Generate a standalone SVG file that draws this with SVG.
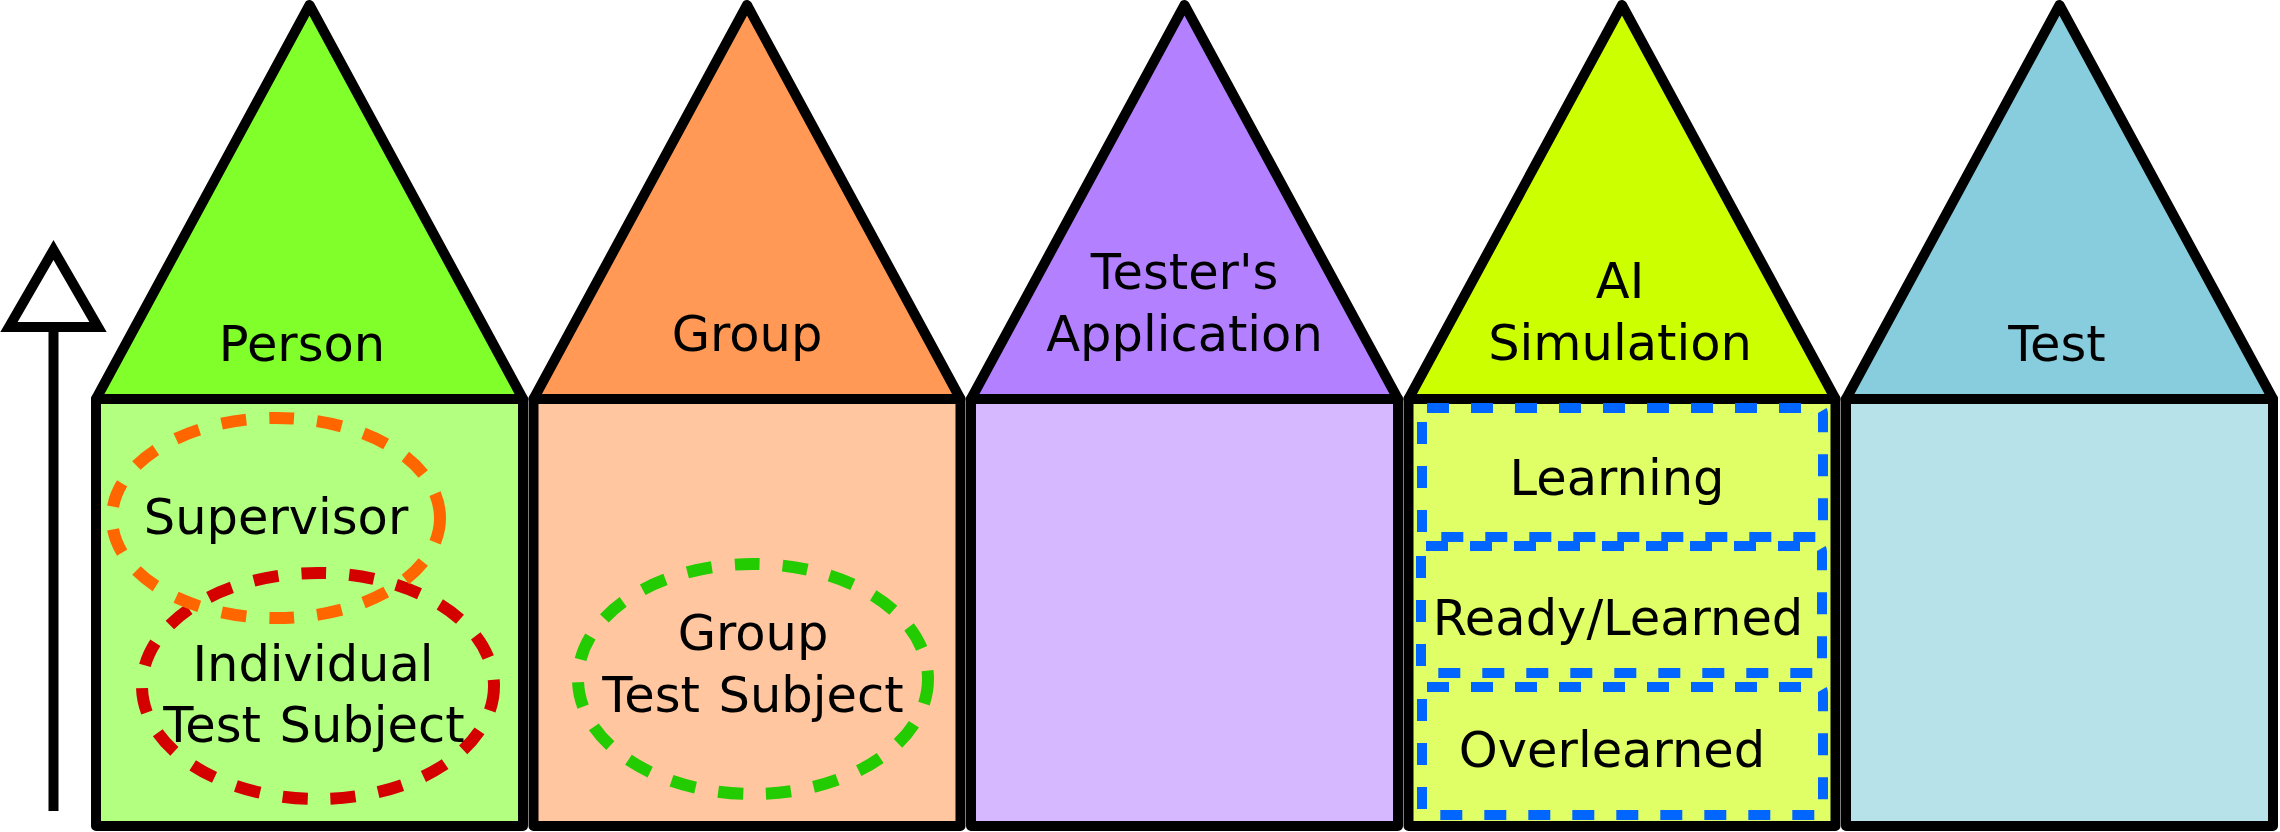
<svg xmlns="http://www.w3.org/2000/svg" width="2280" height="832" viewBox="0 0 2280 832">
<style>
.tri{stroke:#000;stroke-width:10;stroke-linejoin:round}
.box{stroke:#000;stroke-width:10;stroke-linejoin:round}
.lbl{font-family:"DejaVu Sans",Verdana,sans-serif;font-size:49.5px;fill:#000;text-anchor:middle}
.ws{word-spacing:3px}
.ell{fill:none;stroke-width:12;stroke-dasharray:25,23}
.state{fill:none;stroke:#0066ff;stroke-width:10;stroke-dasharray:22,22}
</style>
<rect width="2280" height="832" fill="#fff"/>
<g id="connectors">
<line x1="53.5" y1="327" x2="53.5" y2="811" stroke="#000" stroke-width="10"/>
<polygon points="53.5,250 9,327 98,327" fill="#fff" stroke="#000" stroke-width="10" stroke-linejoin="miter"/>
</g>
<g id="person">
<polygon class="tri" points="309.5,5 96,399 523,399" fill="#80ff2a"/>
<rect class="box" x="96" y="399" width="427" height="427" fill="#b3ff80"/>
<text class="lbl" x="302" y="361">Person</text>
</g>
<g id="group">
<polygon class="tri" points="747,5 533.5,399 960.5,399" fill="#ff9955"/>
<rect class="box" x="533.5" y="399" width="427" height="427" fill="#ffc6a0"/>
<text class="lbl" x="747" y="351">Group</text>
</g>
<g id="testers-application">
<polygon class="tri" points="1184.5,5 971,399 1398,399" fill="#b380ff"/>
<rect class="box" x="971" y="399" width="427" height="427" fill="#d5b8ff"/>
<text class="lbl" x="1184.5" y="289">Tester's</text>
<text class="lbl" x="1184.5" y="351">Application</text>
</g>
<g id="ai-simulation">
<polygon class="tri" points="1622,5 1408.5,399 1835.5,399" fill="#ccff00"/>
<rect class="box" x="1408.5" y="399" width="427" height="427" fill="#e0ff66"/>
<text class="lbl" x="1620" y="298">AI</text>
<text class="lbl" x="1620" y="360">Simulation</text>
</g>
<g id="test">
<polygon class="tri" points="2059.5,5 1846,399 2273,399" fill="#87cddd"/>
<rect class="box" x="1846" y="399" width="427" height="427" fill="#b8e2ea"/>
<text class="lbl" x="2057" y="361">Test</text>
</g>
<g id="individual-test-subject">
<ellipse class="ell" cx="318" cy="686" rx="176" ry="113" stroke="#d40000"/>
<text class="lbl" x="313" y="681">Individual</text>
<text class="lbl ws" x="314" y="742">Test Subject</text>
</g>
<g id="supervisor">
<ellipse class="ell" cx="276" cy="518" rx="164" ry="100" stroke="#ff6600"/>
<text class="lbl" x="276" y="534">Supervisor</text>
</g>
<g id="group-test-subject">
<ellipse class="ell" cx="753" cy="679" rx="175" ry="115" stroke="#22cc00"/>
<text class="lbl" x="753" y="650">Group</text>
<text class="lbl ws" x="753" y="712">Test Subject</text>
</g>
<g id="learning">
<rect class="state" x="1422" y="408" width="401" height="129" rx="5"/>
<text class="lbl" x="1617" y="495">Learning</text>
</g>
<g id="ready-learned">
<rect class="state" x="1421" y="546" width="401" height="127" rx="5"/>
<text class="lbl" x="1618" y="635">Ready/Learned</text>
</g>
<g id="overlearned">
<rect class="state" x="1422" y="687" width="401" height="128" rx="5"/>
<text class="lbl" x="1612" y="767">Overlearned</text>
</g>
</svg>
